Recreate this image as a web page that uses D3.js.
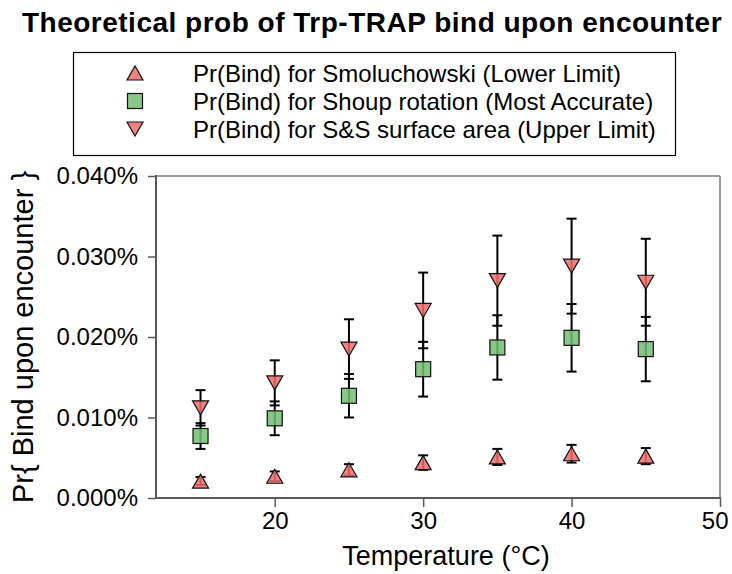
<!DOCTYPE html>
<html>
<head>
<meta charset="utf-8">
<script src="https://cdn.jsdelivr.net/npm/d3@7"></script>
<style>
  html, body { margin: 0; padding: 0; background: #fff; }
  svg { display: block; font-family: "Liberation Sans", Arial, Helvetica, sans-serif; }
</style>
</head>
<body>
<svg id="chart" width="732" height="574"></svg>
<script>
// Temperatures (°C) and binding probabilities (in percent) with their error bars
const temperatures = [15, 20, 25, 30, 35, 40, 45];

const smoluchowski    = [0.0021, 0.0027, 0.0035, 0.0044, 0.0051, 0.0055, 0.0052];
const smoluchowskiErr = [0.0005, 0.0006, 0.0007, 0.0009, 0.0010, 0.0011, 0.0010];

const shoup    = [0.0077, 0.0099, 0.0127, 0.0160, 0.0187, 0.0199, 0.0185];
const shoupErr = [0.0016, 0.0021, 0.0027, 0.0034, 0.0040, 0.0042, 0.0040];

const surfaceArea    = [0.0112, 0.0143, 0.0185, 0.0233, 0.0270, 0.0288, 0.0268];
const surfaceAreaErr = [0.0022, 0.0028, 0.0037, 0.0047, 0.0056, 0.0059, 0.0054];

const xTicks = [20, 30, 40, 50];
const yTicks = [0, 0.01, 0.02, 0.03, 0.04];

const seriesNames = [
  "Pr(Bind) for Smoluchowski (Lower Limit)",
  "Pr(Bind) for Shoup rotation (Most Accurate)",
  "Pr(Bind) for S&S surface area (Upper Limit)"
];

const svg = d3.select("#chart");

const plot = { left: 156, right: 720, top: 176, bottom: 498 };

const x = d3.scaleLinear().domain([12, 50]).range([plot.left, plot.right]);
const y = d3.scaleLinear().domain([0, 0.04]).range([plot.bottom, plot.top]);

// Marker shapes
const triUp = "M0,-7 L8,7 L-8,7 Z";
const triDown = "M0,7 L8,-7 L-8,-7 Z";

const series = [
  { name: seriesNames[0], values: smoluchowski, errs: smoluchowskiErr, shape: "up",   fill: "#f06b6b" },
  { name: seriesNames[1], values: shoup,        errs: shoupErr,        shape: "sq",   fill: "#72bd72" },
  { name: seriesNames[2], values: surfaceArea,  errs: surfaceAreaErr,  shape: "down", fill: "#f06b6b" }
];

// Title
svg.append("text")
  .attr("x", 372).attr("y", 32)
  .attr("text-anchor", "middle")
  .attr("font-size", 28).attr("font-weight", "bold")
  .attr("letter-spacing", 0.5)
  .text("Theoretical prob of Trp-TRAP bind upon encounter");

// Plot frame
const frame = svg.append("g");
frame.append("line").attr("x1", plot.left).attr("x2", plot.right).attr("y1", plot.top).attr("y2", plot.top)
  .attr("stroke", "#9a9a9a").attr("stroke-width", 2);
frame.append("line").attr("x1", plot.right).attr("x2", plot.right).attr("y1", plot.top).attr("y2", plot.bottom)
  .attr("stroke", "#9a9a9a").attr("stroke-width", 2);

// Axes
const xAxis = svg.append("g")
  .attr("transform", `translate(0,${plot.bottom})`)
  .call(d3.axisBottom(x).tickValues(xTicks).tickSizeOuter(0).tickSize(9).tickPadding(5));
const yAxis = svg.append("g")
  .attr("transform", `translate(${plot.left},0)`)
  .call(d3.axisLeft(y).tickValues(yTicks).tickSizeOuter(0).tickSize(8).tickPadding(10)
    .tickFormat(d => d3.format(".3f")(d) + "%"));

[xAxis, yAxis].forEach(g => {
  g.select(".domain").attr("stroke", "#5a5a5a").attr("stroke-width", 2);
  g.selectAll(".tick line").attr("stroke", "#5a5a5a").attr("stroke-width", 1.5);
  g.selectAll(".tick text").attr("font-size", 24).attr("fill", "#000")
    .attr("font-family", "'Liberation Sans', Arial, sans-serif");
});
xAxis.select(".domain").attr("d", `M${plot.left - 1},0H${plot.right + 1}`);
yAxis.select(".domain").attr("d", `M0,${plot.top - 1}V${plot.bottom + 1}`);
// keep the last x label inside the canvas edge
xAxis.selectAll(".tick text").filter(d => d === 50).attr("text-anchor", "end").attr("dx", 8);

// Axis titles
svg.append("text")
  .attr("x", 446).attr("y", 565)
  .attr("text-anchor", "middle")
  .attr("font-size", 27)
  .text("Temperature (°C)");

svg.append("text")
  .attr("transform", "translate(33,337) rotate(-90)")
  .attr("text-anchor", "middle")
  .attr("font-size", 29)
  .text("Pr{ Bind upon encounter }");

// Data layer
const dataLayer = svg.append("g");

function drawMarker(sel, s) {
  if (s.shape === "sq") {
    sel.append("rect").attr("x", -7.5).attr("y", -7.5).attr("width", 15).attr("height", 15);
  } else {
    sel.append("path").attr("d", s.shape === "up" ? triUp : triDown);
  }
  sel.attr("fill", s.fill).attr("fill-opacity", 0.85).attr("stroke", "#111").attr("stroke-width", 1.2);
}

// Error bars first, markers over them
series.forEach(s => {
  const g = dataLayer.append("g");
  temperatures.forEach((t, i) => {
    const cx = x(t), top = y(s.values[i] + s.errs[i]), bot = y(s.values[i] - s.errs[i]);
    g.append("line").attr("x1", cx).attr("x2", cx).attr("y1", top).attr("y2", bot)
      .attr("stroke", "#000").attr("stroke-width", 2);
    [top, bot].forEach(yy => g.append("line")
      .attr("x1", cx - 5).attr("x2", cx + 5).attr("y1", yy).attr("y2", yy)
      .attr("stroke", "#000").attr("stroke-width", 2));
  });
});
series.forEach(s => {
  temperatures.forEach((t, i) => {
    const m = dataLayer.append("g").attr("transform", `translate(${x(t)},${y(s.values[i])})`);
    drawMarker(m, s);
  });
});

// Legend
const legend = svg.append("g");
legend.append("rect").attr("x", 73.5).attr("y", 52.5).attr("width", 602).attr("height", 103)
  .attr("fill", "#fff").attr("stroke", "#000").attr("stroke-width", 1.2);
series.forEach((s, i) => {
  const cy = 73 + i * 28;
  const m = legend.append("g").attr("transform", `translate(135,${cy})`);
  drawMarker(m, s);
  legend.append("text").attr("x", 193).attr("y", cy).attr("dy", "0.36em")
    .attr("font-size", 24).text(s.name);
});
</script>
</body>
</html>
